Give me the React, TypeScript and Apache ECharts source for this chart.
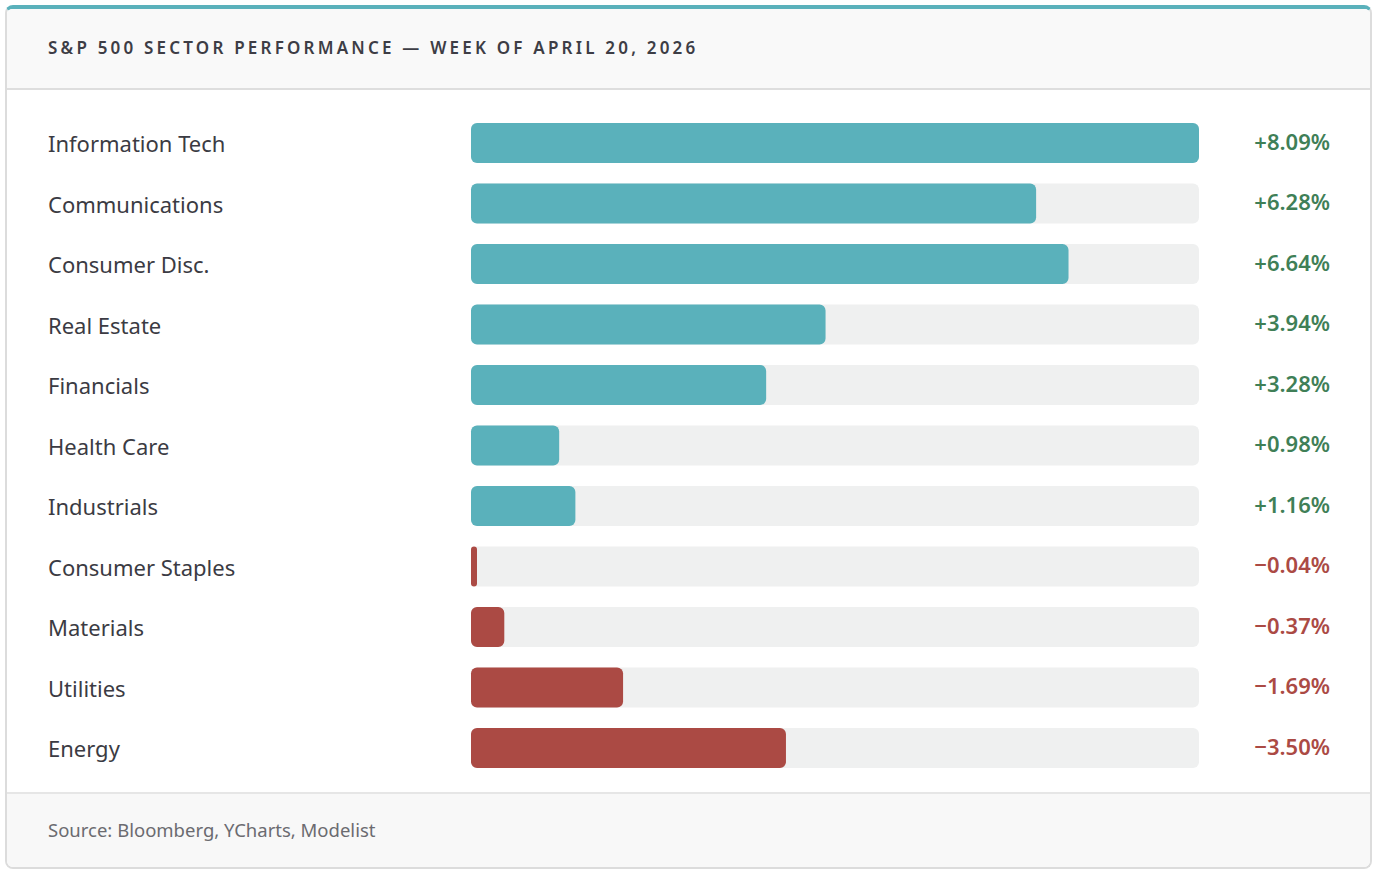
import React, { useEffect, useRef } from "react";
import * as echarts from "echarts";

const sectors = [
  "Information Tech",
  "Communications",
  "Consumer Disc.",
  "Real Estate",
  "Financials",
  "Health Care",
  "Industrials",
  "Consumer Staples",
  "Materials",
  "Utilities",
  "Energy",
];
const changes = [8.09, 6.28, 6.64, 3.94, 3.28, 0.98, 1.16, -0.04, -0.37, -1.69, -3.5];
const valueLabels = changes.map((v) =>
  v >= 0 ? `+${v.toFixed(2)}%` : `\u2212${Math.abs(v).toFixed(2)}%`
);

const TEAL = "#5ab1bb";
const RED = "#ab4a44";
const GREEN = "#3f7f57";
const FONT = "'Noto Sans', Lato, sans-serif";

export default function App() {
  const ref = useRef<HTMLDivElement>(null);
  useEffect(() => {
    if (!ref.current) return;
    const chart = echarts.init(ref.current, undefined, { renderer: "svg" });
    const maxAbs = Math.max(...changes.map((v) => Math.abs(v)));
    chart.setOption({
      animation: false,
      grid: { left: 471, right: 178, top: 112.75, bottom: 96.75, containLabel: false },
      xAxis: { type: "value", min: 0, max: maxAbs, show: false },
      yAxis: [
        {
          type: "category",
          data: sectors,
          inverse: true,
          axisLine: { show: false },
          axisTick: { show: false },
          splitLine: { show: false },
          axisLabel: {
            margin: 423,
            align: "left",
            fontSize: 22,
            fontFamily: FONT,
            color: "#3b3b43",
            padding: [0, 0, 5, 0],
          },
        },
        {
          type: "category",
          data: valueLabels,
          inverse: true,
          position: "right",
          axisLine: { show: false },
          axisTick: { show: false },
          splitLine: { show: false },
          axisLabel: {
            margin: 131,
            align: "right",
            formatter: (val: string, idx: number) =>
              changes[idx] >= 0 ? `{p|${val}}` : `{n|${val}}`,
            rich: {
              p: { color: GREEN, fontSize: 22, fontWeight: 600, fontFamily: FONT, padding: [0, 0, 5, 0] },
              n: { color: RED, fontSize: 22, fontWeight: 600, fontFamily: FONT, padding: [0, 0, 5, 0] },
            },
          },
        },
      ],
      series: [
        {
          type: "bar",
          yAxisIndex: 0,
          barWidth: 40,
          barMinHeight: 6,
          showBackground: true,
          backgroundStyle: { color: "#eff0f0", borderRadius: 6 },
          itemStyle: { borderRadius: 6 },
          data: changes.map((v) => ({
            value: Math.abs(v),
            itemStyle: { color: v >= 0 ? TEAL : RED },
          })),
        },
      ],
    });
    return () => chart.dispose();
  }, []);

  return (
    <div style={{ position: "absolute", left: 0, top: 0, width: 1377, height: 875, fontFamily: FONT }}>
      <div
        style={{
          position: "absolute",
          left: 5,
          top: 5,
          width: 1367,
          height: 864,
          boxSizing: "border-box",
          border: "2px solid #dcdcdc",
          borderTop: "4px solid " + TEAL,
          borderRadius: 8,
          overflow: "hidden",
          background: "#ffffff",
        }}
      >
        <div
          style={{
            height: 81,
            boxSizing: "border-box",
            background: "#f9f9f9",
            borderBottom: "2px solid #dedede",
            paddingLeft: 41,
            paddingBottom: 2,
            display: "flex",
            alignItems: "center",
            fontSize: 17,
            fontWeight: 600,
            letterSpacing: 3.2,
            color: "#3d3d45",
            whiteSpace: "nowrap",
          }}
        >
          S&amp;P 500 SECTOR PERFORMANCE — WEEK OF APRIL 20, 2026
        </div>
        <div
          style={{
            position: "absolute",
            left: 0,
            right: 0,
            top: 783,
            bottom: 0,
            background: "#f8f8f8",
            borderTop: "2px solid #e6e6e6",
            paddingLeft: 41,
            paddingBottom: 2,
            display: "flex",
            alignItems: "center",
            fontSize: 18.5,
            color: "#6b6b70",
          }}
        >
          Source: Bloomberg, YCharts, Modelist
        </div>
      </div>
      <div ref={ref} style={{ position: "absolute", left: 0, top: 0, width: 1377, height: 875 }} />
    </div>
  );
}
